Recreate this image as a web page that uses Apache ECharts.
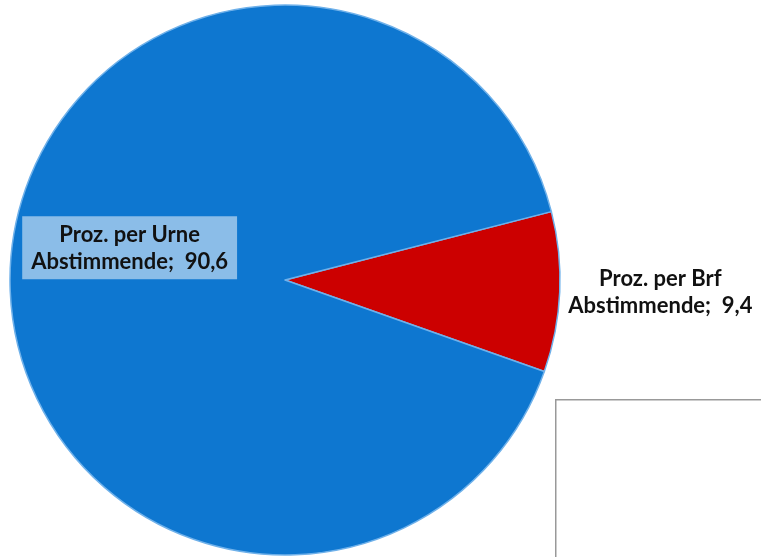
<!DOCTYPE html>
<html>
<head>
<meta charset="utf-8">
<script src="https://cdn.jsdelivr.net/npm/echarts@6/dist/echarts.min.js"></script>
<style>
    html, body { margin: 0; padding: 0; background: #fff; }
    #chart { width: 761px; height: 557px; }
</style>
</head>
<body>
<div id="chart"></div>
<script>
// Anteile der Abstimmenden
let categories = ['Proz. per Brf\nAbstimmende', 'Proz. per Urne\nAbstimmende'];
let values = [9.4, 90.6];
let colors = ['#cc0000', '#0e77d0'];

let pieChart = function () {
    let box = document.getElementById('chart');
    let myChart = echarts.init(box);

    let data = categories.map(function (name, i) {
        return {
            name: name,
            value: values[i],
            itemStyle: { color: colors[i] }
        };
    });
    // Urne: Beschriftung im Segment mit hellblauem Kasten
    data[1].label = {
        position: 'inside',
        offset: [-15, -26],
        backgroundColor: '#8bbde8',
        padding: [5, 9, 4, 9]
    };
    data[1].labelLine = { show: false };
    // Brief: Beschriftung rechts ausserhalb
    data[0].label = {
        position: 'outside',
        overflow: 'none'
    };
    data[0].labelLine = { show: false, length: 5, length2: 0 };

    let textStyle = {
        color: '#111',
        fontFamily: 'Lato',
        fontWeight: 'bold',
        fontSize: 22,
        lineHeight: 27,
        align: 'center'
    };

    let options = {
        animation: false,
        graphic: [
            {
                type: 'rect',
                left: 555,
                top: 399,
                shape: { width: 230, height: 180 },
                style: { fill: '#fff', stroke: '#999', lineWidth: 1.5 },
                z: -1
            }
        ],
        series: [
            {
                type: 'pie',
                center: [285, 280],
                radius: [0, 275],
                startAngle: 14.4,
                clockwise: true,
                data: data,
                itemStyle: {
                    borderColor: '#6fb1ea',
                    borderWidth: 1.5
                },
                label: {
                    show: true,
                    overflow: 'none',
                    formatter: function (p) {
                        let lines = (p.name + ';  ' + String(p.value).replace('.', ',')).split('\n');
                        return lines.map(function (l) { return '{t|' + l + '}'; }).join('\n');
                    },
                    rich: { t: textStyle }
                }
            }
        ]
    };
    myChart.setOption(options);
};

pieChart();
</script>
</body>
</html>
